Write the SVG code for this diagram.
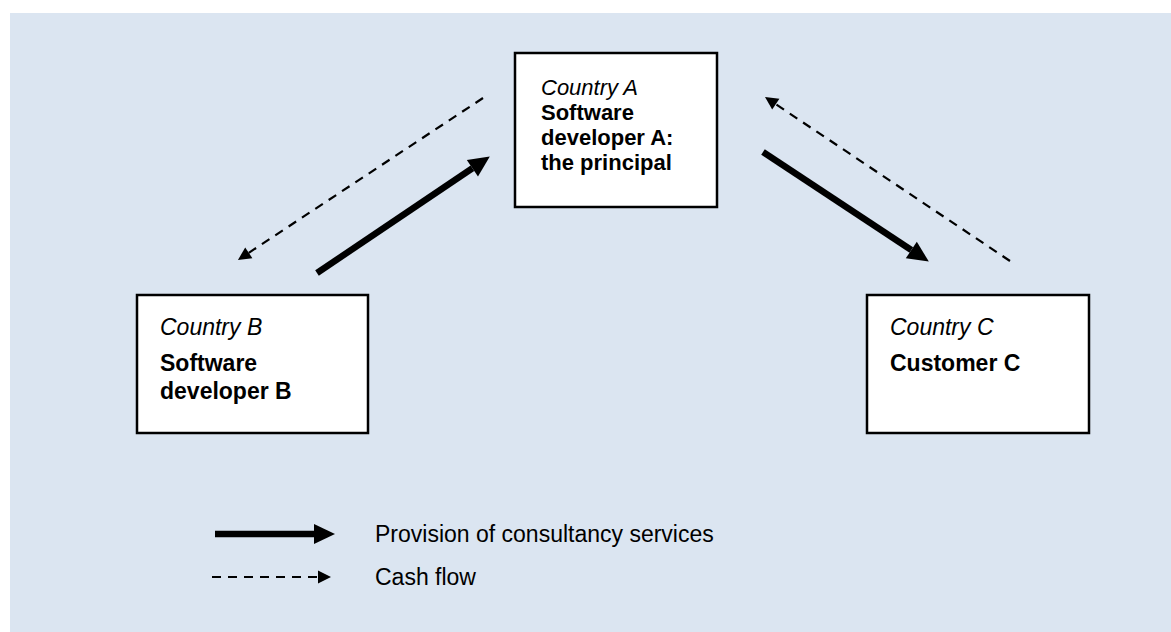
<svg xmlns="http://www.w3.org/2000/svg" width="1171" height="632" viewBox="0 0 1171 632">
<style>
.box{fill:#fff;stroke:#000;stroke-width:2.5}
.t{font-family:"Liberation Sans",Arial,sans-serif;font-size:23px;fill:#000}
.a{font-size:22px}
.i{font-style:italic}
.b{font-weight:bold}
.solid{stroke:#000;stroke-width:6.5;fill:none}
.dash{stroke:#000;stroke-width:2.2;fill:none;stroke-dasharray:9 7}
</style>
<defs>
<marker id="hs" markerUnits="userSpaceOnUse" orient="auto" refX="0" refY="0" markerWidth="30" markerHeight="30" overflow="visible">
<path d="M0,-10 L21,0 L0,10 z" fill="#000"/>
</marker>
<marker id="hd" markerUnits="userSpaceOnUse" orient="auto" refX="0" refY="0" markerWidth="20" markerHeight="20" overflow="visible">
<path d="M0,-6.5 L13,0 L0,6.5 z" fill="#000"/>
</marker>
</defs>
<rect x="10" y="13" width="1161" height="619" fill="#DBE5F1"/>
<g id="nodeA">
<rect class="box" x="515" y="53" width="202" height="154"/>
<text class="t a i" x="541" y="95">Country A</text>
<text class="t a b" x="541" y="120">Software</text>
<text class="t a b" x="541" y="145">developer A:</text>
<text class="t a b" x="541" y="170">the principal</text>
</g>
<g id="nodeB">
<rect class="box" x="137" y="295" width="231" height="138"/>
<text class="t i" x="160" y="335">Country B</text>
<text class="t b" x="160" y="371">Software</text>
<text class="t b" x="160" y="399">developer B</text>
</g>
<g id="nodeC">
<rect class="box" x="867" y="295" width="222" height="138"/>
<text class="t i" x="890" y="335">Country C</text>
<text class="t b" x="890" y="371">Customer C</text>
</g>
<g id="connectors">
<line class="solid" x1="317" y1="273" x2="472.4" y2="168.2" marker-end="url(#hs)"/>
<line class="solid" x1="763" y1="152" x2="911.3" y2="250" marker-end="url(#hs)"/>
<line class="dash" x1="483" y1="98" x2="248.8" y2="252.8" marker-end="url(#hd)"/>
<line class="dash" x1="1010" y1="261" x2="775.8" y2="104.2" marker-end="url(#hd)"/>
</g>
<g id="legend">
<line class="solid" x1="215" y1="534" x2="314" y2="534" marker-end="url(#hs)"/>
<line class="dash" x1="212" y1="577" x2="318" y2="577" stroke-dasharray="8 7" marker-end="url(#hd)"/>
<text class="t" x="375" y="542">Provision of consultancy services</text>
<text class="t" x="375" y="585">Cash flow</text>
</g>
</svg>
